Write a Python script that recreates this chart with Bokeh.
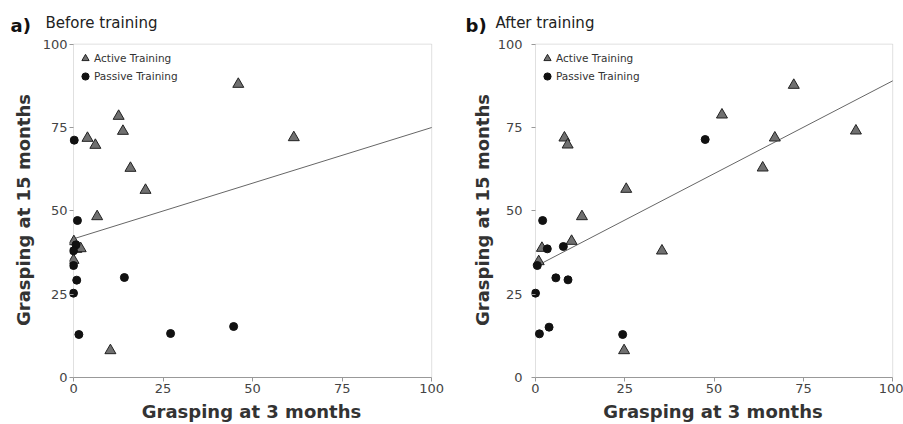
from bokeh.plotting import figure
from bokeh.models import Range1d, BoxAnnotation, Label, Legend, LegendItem, FixedTicker
from bokeh.layouts import row, column
from bokeh.embed import file_html
from bokeh.resources import INLINE

ticks = [0, 25, 50, 75, 100]
x_label = "Grasping at 3 months"
y_label = "Grasping at 15 months"
legend_labels = ["Active Training", "Passive Training"]
panel_letters = ["a)", "b)"]
panel_titles = ["Before training", "After training"]

# Panel a) Before training
a_active_x = [46, 61.5, 12.6, 13.8, 3.9, 6.1, 15.9, 20.1, 6.6, 0.1, 0.8, 2.0, 0.0, 10.3]
a_active_y = [88, 72, 78.4, 73.9, 71.8, 69.7, 62.8, 56.2, 48.3, 40.8, 38.5, 38.7, 35.2, 8.1]
a_passive_x = [0.2, 1.1, 0.7, 0.0, 0.0, 0.9, 0.0, 1.5, 14.2, 27.1, 44.7]
a_passive_y = [71.2, 47.1, 39.8, 38.0, 33.6, 29.2, 25.3, 12.9, 30.0, 13.2, 15.3]
a_fit_x = [0, 100]
a_fit_y = [41.6, 75.0]

# Panel b) After training
b_active_x = [72.3, 52.2, 89.7, 67.0, 63.6, 8.1, 9.0, 25.4, 13.0, 10.1, 1.8, 0.9, 35.4, 24.8]
b_active_y = [87.7, 78.8, 74.0, 71.9, 62.9, 71.9, 69.8, 56.5, 48.3, 40.9, 38.8, 34.8, 38.0, 8.1]
b_passive_x = [47.5, 2.0, 3.3, 7.8, 0.5, 5.7, 9.1, 0.0, 1.1, 3.8, 24.4]
b_passive_y = [71.4, 47.1, 38.6, 39.3, 33.6, 29.9, 29.3, 25.3, 13.1, 15.1, 12.9]
b_fit_x = [0, 100]
b_fit_y = [33.3, 89.0]

FONT = "DejaVu Sans"
AXIS_COLOR = "#999999"
STRIP_H = 36
PANEL_H = 424 - STRIP_H


def make_panel(ax, ay, px, py, fx, fy, width, border_left, border_right,
               tick_standoff, label_standoff):
    p = figure(width=width, height=PANEL_H, output_backend="svg", toolbar_location=None,
               x_range=Range1d(-1.12, 100.5), y_range=Range1d(0, 100.5),
               min_border_left=border_left, min_border_right=border_right,
               min_border_top=6, min_border_bottom=47)
    p.title = None
    p.outline_line_color = None
    p.grid.visible = False

    for axis in (p.xaxis[0], p.yaxis[0]):
        axis.ticker = FixedTicker(ticks=ticks)
        axis.major_tick_line_color = AXIS_COLOR
        axis.minor_tick_line_color = None
        axis.major_label_text_font = FONT
        axis.major_label_text_font_size = "13px"
        axis.major_label_text_color = "#444444"
        axis.axis_label_text_font = FONT
        axis.axis_label_text_font_size = "18px"
        axis.axis_label_text_font_style = "bold"
        axis.axis_label_text_color = "#333333"
    p.xaxis.axis_label = x_label
    p.yaxis.axis_label = y_label

    p.xaxis.bounds = (0, 100)
    p.xaxis.axis_line_color = AXIS_COLOR
    p.xaxis.major_tick_in = 0
    p.xaxis.major_tick_out = 4
    p.xaxis.major_label_standoff = 2
    p.xaxis.axis_label_standoff = 5

    # y axis sits 4px left of x=0: ticks reach inward to the x=0 line
    p.yaxis.axis_line_color = None
    p.yaxis.major_tick_in = 4
    p.yaxis.major_tick_out = 0
    p.yaxis.major_label_standoff = tick_standoff
    p.yaxis.axis_label_standoff = label_standoff

    p.add_layout(BoxAnnotation(left=0, right=100, bottom=0, top=100, fill_alpha=0,
                               line_color=AXIS_COLOR, line_width=1, level="underlay"))

    p.line(fx, fy, line_color="#666666", line_width=1)
    r_act = p.scatter(ax, ay, marker="triangle", size=11, fill_color="#707070",
                      line_color="#222222", line_width=1)
    r_pas = p.scatter(px, py, marker="circle", size=8, fill_color="#111111",
                      line_color="#111111", line_width=1)

    legend = Legend(items=[LegendItem(label=legend_labels[0], renderers=[r_act]),
                           LegendItem(label=legend_labels[1], renderers=[r_pas])],
                    location="top_left")
    legend.background_fill_alpha = 0
    legend.border_line_color = None
    legend.margin = 7
    legend.padding = 0
    legend.spacing = 0
    legend.glyph_width = 18
    legend.glyph_height = 18
    legend.label_height = 18
    legend.label_standoff = 0
    legend.label_text_font = FONT
    legend.label_text_font_size = "10.5px"
    legend.label_text_color = "#333333"
    p.add_layout(legend)
    return p


# Title strip across the top
strip = figure(width=903, height=STRIP_H, output_backend="svg", toolbar_location=None,
               x_range=Range1d(0, 903), y_range=Range1d(0, STRIP_H),
               x_axis_type=None, y_axis_type=None,
               min_border_left=0, min_border_right=0, min_border_top=0, min_border_bottom=0)
strip.title = None
strip.outline_line_color = None
strip.grid.visible = False
for lx, tx, letter, title in ((10, 45, panel_letters[0], panel_titles[0]),
                              (465, 495, panel_letters[1], panel_titles[1])):
    strip.add_layout(Label(x=lx, y=STRIP_H - 35.5, text=letter, text_font=FONT,
                           text_font_size="18px", text_font_style="bold",
                           text_color="#111111", text_baseline="bottom"))
    strip.add_layout(Label(x=tx, y=STRIP_H - 31, text=title, text_font=FONT,
                           text_font_size="15px", text_color="#222222",
                           text_baseline="bottom"))

pa = make_panel(a_active_x, a_active_y, a_passive_x, a_passive_y, a_fit_x, a_fit_y,
                451, 69, 18, 2, 6)
pb = make_panel(b_active_x, b_active_y, b_passive_x, b_passive_y, b_fit_x, b_fit_y,
                452, 80, 9, 9, 2)

layout = column(strip, row(pa, pb))
open("out.html", "w").write(file_html(layout, INLINE))
